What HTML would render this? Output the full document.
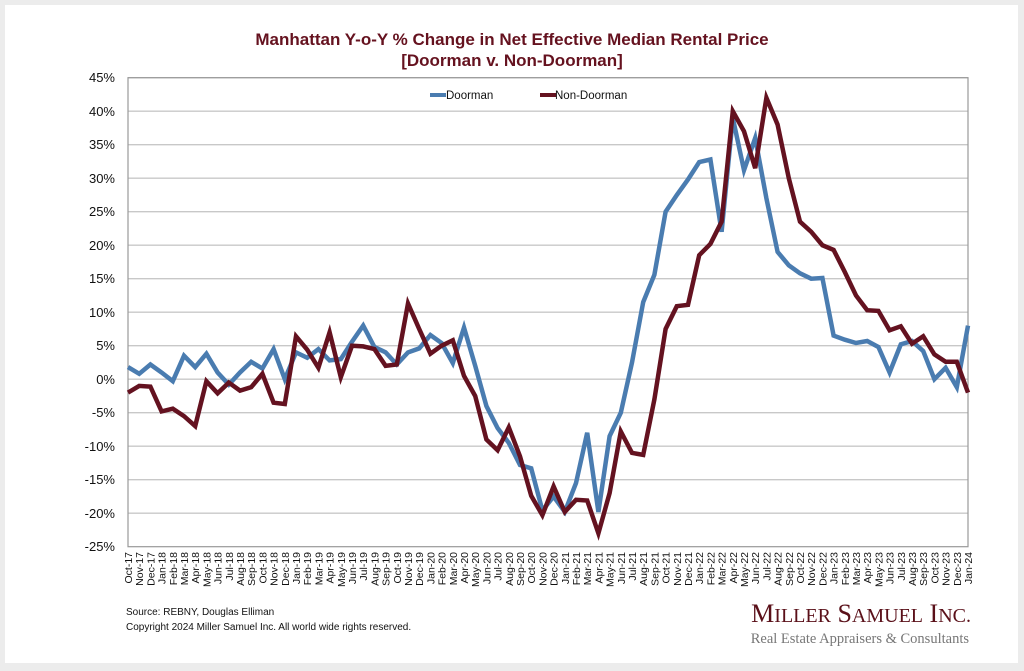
<!DOCTYPE html>
<html><head><meta charset="utf-8"><style>
html,body{margin:0;padding:0;background:#ececec;}
svg{display:block;}
</style></head><body>
<svg width="1024" height="671" xmlns="http://www.w3.org/2000/svg" font-family="Liberation Sans, Arial, sans-serif">
<rect x="0" y="0" width="1024" height="671" fill="#ececec"/>
<rect x="5" y="5" width="1013" height="658" fill="#ffffff"/>
<text x="512" y="45" text-anchor="middle" font-size="17" font-weight="bold" fill="#65121f">Manhattan Y-o-Y % Change in Net Effective Median Rental Price</text>
<text x="512" y="66" text-anchor="middle" font-size="17" font-weight="bold" fill="#65121f">[Doorman v. Non-Doorman]</text>
<!-- grid -->
<g stroke="#c8c8c8" stroke-width="1.3">
<line x1="128" y1="77.7" x2="968" y2="77.7"/><line x1="128" y1="111.2" x2="968" y2="111.2"/>
<line x1="128" y1="144.7" x2="968" y2="144.7"/><line x1="128" y1="178.2" x2="968" y2="178.2"/>
<line x1="128" y1="211.7" x2="968" y2="211.7"/><line x1="128" y1="245.2" x2="968" y2="245.2"/>
<line x1="128" y1="278.7" x2="968" y2="278.7"/><line x1="128" y1="312.2" x2="968" y2="312.2"/>
<line x1="128" y1="345.7" x2="968" y2="345.7"/><line x1="128" y1="379.2" x2="968" y2="379.2"/>
<line x1="128" y1="412.7" x2="968" y2="412.7"/><line x1="128" y1="446.2" x2="968" y2="446.2"/>
<line x1="128" y1="479.7" x2="968" y2="479.7"/><line x1="128" y1="513.2" x2="968" y2="513.2"/>
</g>
<rect x="128" y="77.7" width="840" height="469" fill="none" stroke="#999" stroke-width="1.2"/>
<g font-size="13" text-anchor="end" fill="#111">
<text x="115" y="82">45%</text><text x="115" y="116">40%</text><text x="115" y="149">35%</text>
<text x="115" y="183">30%</text><text x="115" y="216">25%</text><text x="115" y="250">20%</text>
<text x="115" y="283">15%</text><text x="115" y="317">10%</text><text x="115" y="350">5%</text>
<text x="115" y="384">0%</text><text x="115" y="417">-5%</text><text x="115" y="451">-10%</text>
<text x="115" y="484">-15%</text><text x="115" y="518">-20%</text><text x="115" y="551">-25%</text>
</g>
<!-- legend -->
<line x1="430" y1="95" x2="446" y2="95" stroke="#4a7cb0" stroke-width="4"/>
<text x="446" y="99" font-size="11.5" fill="#111">Doorman</text>
<line x1="540" y1="95" x2="556" y2="95" stroke="#641220" stroke-width="4"/>
<text x="555" y="99" font-size="11.5" fill="#111">Non-Doorman</text>
<!-- series -->
<polyline fill="none" stroke="#4a7cb0" stroke-width="4.5" stroke-linejoin="miter" points="128,367.1 139.2,373.8 150.4,364.5 161.6,372.5 172.8,381.2 184,355.7 195.2,367.1 206.4,353.7 217.6,372.5 228.8,384.6 240,372.5 251.2,361.8 262.4,368.5 273.6,349.1 284.8,379.2 296,352.4 307.2,357.8 318.4,349.1 329.6,360.4 340.8,359.1 352,341.7 363.2,325.6 374.4,347 385.6,352.4 396.8,364.5 408,352.4 419.2,348.4 430.4,335 441.6,343 452.8,363.1 464,327.6 475.2,365.8 486.4,406 497.6,428.1 508.8,442.9 520,465 531.2,468.3 542.4,510.5 553.6,496.5 564.8,511.9 576,483.1 587.2,432.8 598.4,511.9 609.6,436.2 620.8,412.7 632,362.5 643.2,302.1 654.4,274.7 665.6,211.7 676.8,195 688,179.5 699.2,162.1 710.4,159.5 721.6,231.8 732.8,117.9 744,170.2 755.2,138 766.4,198.3 777.6,251.9 788.8,265.3 800,273.3 811.2,278.7 822.4,278 833.6,335.6 844.8,339.7 856,343 867.2,341 878.4,347 889.6,372.5 900.8,344.4 912,341 923.2,351.1 934.4,379.2 945.6,367.8 956.8,387.2 968,325.6"/>
<polyline fill="none" stroke="#641220" stroke-width="4.5" stroke-linejoin="miter" points="128,392.6 139.2,385.9 150.4,386.6 161.6,411.4 172.8,408.7 184,416.1 195.2,426.1 206.4,381.2 217.6,393.3 228.8,382.6 240,390.6 251.2,387.2 262.4,373.8 273.6,402.7 284.8,404 296,336.3 307.2,349.7 318.4,367.8 329.6,332.3 340.8,377.2 352,345.7 363.2,346.4 374.4,349.1 385.6,365.8 396.8,364.5 408,303.5 419.2,329 430.4,353.7 441.6,345.7 452.8,340.3 464,375.9 475.2,396 486.4,439.5 497.6,450.2 508.8,427.4 520,456.3 531.2,495.8 542.4,515.2 553.6,486.4 564.8,511.9 576,499.8 587.2,500.5 598.4,533.3 609.6,493.1 620.8,431.5 632,452.9 643.2,454.9 654.4,399.3 665.6,329 676.8,306.2 688,304.8 699.2,255.2 710.4,243.9 721.6,221.7 732.8,111.2 744,131.3 755.2,168.2 766.4,97.8 777.6,124.6 788.8,178.2 800,221.7 811.2,231.8 822.4,245.2 833.6,249.9 844.8,272 856,295.5 867.2,310.2 878.4,310.9 889.6,330.3 900.8,326.3 912,343.7 923.2,336.3 934.4,354.4 945.6,361.8 956.8,361.8 968,392.6"/>
<!-- x labels -->
<g font-size="10.5" text-anchor="end" fill="#111">
<text transform="translate(132,552) rotate(-90)">Oct-17</text>
<text transform="translate(143.2,552) rotate(-90)">Nov-17</text>
<text transform="translate(154.4,552) rotate(-90)">Dec-17</text>
<text transform="translate(165.6,552) rotate(-90)">Jan-18</text>
<text transform="translate(176.8,552) rotate(-90)">Feb-18</text>
<text transform="translate(188,552) rotate(-90)">Mar-18</text>
<text transform="translate(199.2,552) rotate(-90)">Apr-18</text>
<text transform="translate(210.4,552) rotate(-90)">May-18</text>
<text transform="translate(221.6,552) rotate(-90)">Jun-18</text>
<text transform="translate(232.8,552) rotate(-90)">Jul-18</text>
<text transform="translate(244,552) rotate(-90)">Aug-18</text>
<text transform="translate(255.2,552) rotate(-90)">Sep-18</text>
<text transform="translate(266.4,552) rotate(-90)">Oct-18</text>
<text transform="translate(277.6,552) rotate(-90)">Nov-18</text>
<text transform="translate(288.8,552) rotate(-90)">Dec-18</text>
<text transform="translate(300,552) rotate(-90)">Jan-19</text>
<text transform="translate(311.2,552) rotate(-90)">Feb-19</text>
<text transform="translate(322.4,552) rotate(-90)">Mar-19</text>
<text transform="translate(333.6,552) rotate(-90)">Apr-19</text>
<text transform="translate(344.8,552) rotate(-90)">May-19</text>
<text transform="translate(356,552) rotate(-90)">Jun-19</text>
<text transform="translate(367.2,552) rotate(-90)">Jul-19</text>
<text transform="translate(378.4,552) rotate(-90)">Aug-19</text>
<text transform="translate(389.6,552) rotate(-90)">Sep-19</text>
<text transform="translate(400.8,552) rotate(-90)">Oct-19</text>
<text transform="translate(412,552) rotate(-90)">Nov-19</text>
<text transform="translate(423.2,552) rotate(-90)">Dec-19</text>
<text transform="translate(434.4,552) rotate(-90)">Jan-20</text>
<text transform="translate(445.6,552) rotate(-90)">Feb-20</text>
<text transform="translate(456.8,552) rotate(-90)">Mar-20</text>
<text transform="translate(468,552) rotate(-90)">Apr-20</text>
<text transform="translate(479.2,552) rotate(-90)">May-20</text>
<text transform="translate(490.4,552) rotate(-90)">Jun-20</text>
<text transform="translate(501.6,552) rotate(-90)">Jul-20</text>
<text transform="translate(512.8,552) rotate(-90)">Aug-20</text>
<text transform="translate(524,552) rotate(-90)">Sep-20</text>
<text transform="translate(535.2,552) rotate(-90)">Oct-20</text>
<text transform="translate(546.4,552) rotate(-90)">Nov-20</text>
<text transform="translate(557.6,552) rotate(-90)">Dec-20</text>
<text transform="translate(568.8,552) rotate(-90)">Jan-21</text>
<text transform="translate(580,552) rotate(-90)">Feb-21</text>
<text transform="translate(591.2,552) rotate(-90)">Mar-21</text>
<text transform="translate(602.4,552) rotate(-90)">Apr-21</text>
<text transform="translate(613.6,552) rotate(-90)">May-21</text>
<text transform="translate(624.8,552) rotate(-90)">Jun-21</text>
<text transform="translate(636,552) rotate(-90)">Jul-21</text>
<text transform="translate(647.2,552) rotate(-90)">Aug-21</text>
<text transform="translate(658.4,552) rotate(-90)">Sep-21</text>
<text transform="translate(669.6,552) rotate(-90)">Oct-21</text>
<text transform="translate(680.8,552) rotate(-90)">Nov-21</text>
<text transform="translate(692,552) rotate(-90)">Dec-21</text>
<text transform="translate(703.2,552) rotate(-90)">Jan-22</text>
<text transform="translate(714.4,552) rotate(-90)">Feb-22</text>
<text transform="translate(725.6,552) rotate(-90)">Mar-22</text>
<text transform="translate(736.8,552) rotate(-90)">Apr-22</text>
<text transform="translate(748,552) rotate(-90)">May-22</text>
<text transform="translate(759.2,552) rotate(-90)">Jun-22</text>
<text transform="translate(770.4,552) rotate(-90)">Jul-22</text>
<text transform="translate(781.6,552) rotate(-90)">Aug-22</text>
<text transform="translate(792.8,552) rotate(-90)">Sep-22</text>
<text transform="translate(804,552) rotate(-90)">Oct-22</text>
<text transform="translate(815.2,552) rotate(-90)">Nov-22</text>
<text transform="translate(826.4,552) rotate(-90)">Dec-22</text>
<text transform="translate(837.6,552) rotate(-90)">Jan-23</text>
<text transform="translate(848.8,552) rotate(-90)">Feb-23</text>
<text transform="translate(860,552) rotate(-90)">Mar-23</text>
<text transform="translate(871.2,552) rotate(-90)">Apr-23</text>
<text transform="translate(882.4,552) rotate(-90)">May-23</text>
<text transform="translate(893.6,552) rotate(-90)">Jun-23</text>
<text transform="translate(904.8,552) rotate(-90)">Jul-23</text>
<text transform="translate(916,552) rotate(-90)">Aug-23</text>
<text transform="translate(927.2,552) rotate(-90)">Sep-23</text>
<text transform="translate(938.4,552) rotate(-90)">Oct-23</text>
<text transform="translate(949.6,552) rotate(-90)">Nov-23</text>
<text transform="translate(960.8,552) rotate(-90)">Dec-23</text>
<text transform="translate(972,552) rotate(-90)">Jan-24</text>
</g>
<text x="126" y="615" font-size="10" fill="#111">Source: REBNY, Douglas Elliman</text>
<text x="126" y="630" font-size="10" fill="#111">Copyright 2024 Miller Samuel Inc.  All world wide rights reserved.</text>
<text x="971" y="622" text-anchor="end" font-family="Liberation Serif, serif" font-size="26" fill="#5a1019">M<tspan font-size="20">ILLER</tspan> S<tspan font-size="20">AMUEL</tspan> I<tspan font-size="20">NC.</tspan></text>
<text x="969" y="643" text-anchor="end" font-family="Liberation Serif, serif" font-size="14.5" fill="#777">Real Estate Appraisers &amp; Consultants</text>
</svg>
</body></html>
